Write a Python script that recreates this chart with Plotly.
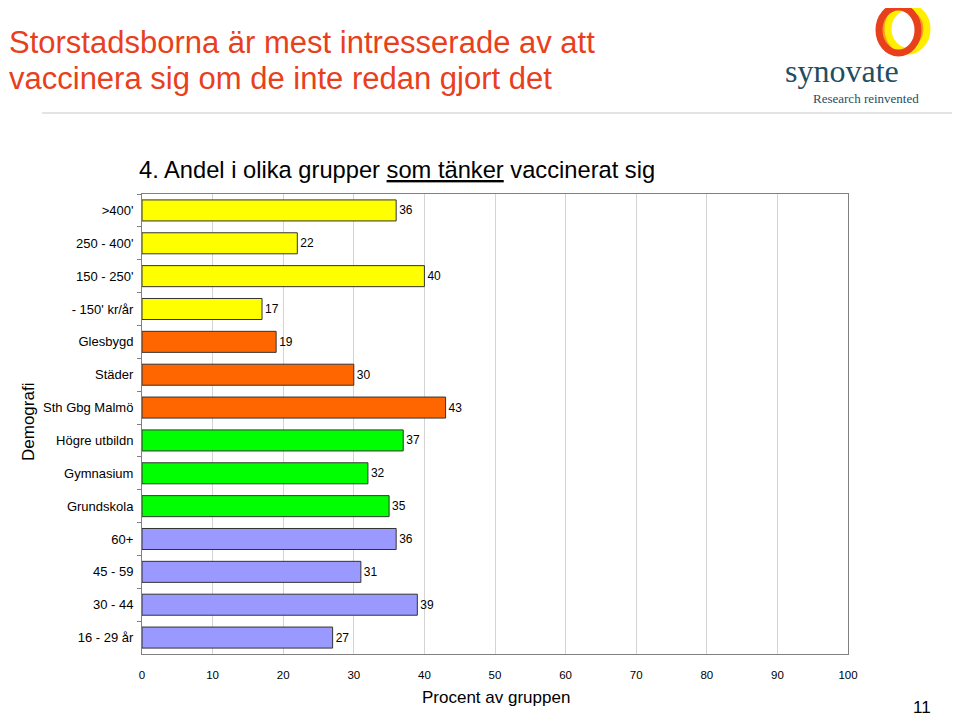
import plotly.graph_objects as go

categories = [">400'", "250 - 400'", "150 - 250'", "- 150' kr/år", "Glesbygd", "Städer",
              "Sth Gbg Malmö", "Högre utbildn", "Gymnasium", "Grundskola", "60+",
              "45 - 59", "30 - 44", "16 - 29 år"]
values = [36, 22, 40, 17, 19, 30, 43, 37, 32, 35, 36, 31, 39, 27]
group_colors = ["#FFFF00"] * 4 + ["#FF6600"] * 3 + ["#00FF00"] * 3 + ["#9999FF"] * 4
x_ticks = [0, 10, 20, 30, 40, 50, 60, 70, 80, 90, 100]

FONT = "Liberation Sans, Arial, sans-serif"
SERIF = "Liberation Serif, Times New Roman, serif"

# page offset of the default body margin
OFF = 8
# plot area in page pixels
L, R, T, B = 142, 848, 194, 654
W, H = 960 - OFF, 716 - OFF


def px(xp):
    return (xp - L) / (R - L)


def py(yp):
    return 1 - (yp - T) / (B - T)


fig = go.Figure()
fig.add_trace(go.Bar(
    y=categories, x=values, orientation="h",
    marker=dict(color=group_colors, line=dict(color="#333333", width=1)),
    width=0.64,
    text=[str(v) for v in values], textposition="outside",
    textfont=dict(family=FONT, size=12, color="#000000"),
    cliponaxis=False, showlegend=False,
))

fig.update_layout(
    width=W, height=H,
    paper_bgcolor="white", plot_bgcolor="white",
    margin=dict(l=L - OFF, r=W - (R - OFF), t=T - OFF, b=H - (B - OFF), pad=0),
    font=dict(family=FONT, color="#000000"),
    xaxis=dict(range=[0, 100], tickvals=x_ticks, ticktext=[str(t) for t in x_ticks],
               showgrid=True, gridcolor="#D4D4D4", gridwidth=1,
               showline=True, linecolor="#808080", linewidth=1, mirror=True,
               ticks="", tickfont=dict(size=11.5), zeroline=False,
               ticklabelstandoff=10),
    yaxis=dict(categoryorder="array", categoryarray=categories, autorange="reversed",
               showline=True, linecolor="#808080", linewidth=1, mirror=True,
               ticks="outside", ticklen=4, tickcolor="#808080", tickson="boundaries",
               tickfont=dict(size=13), showgrid=False, ticklabelstandoff=5),
    bargap=0.36,
)

# Main title (two lines)
fig.add_annotation(text="Storstadsborna är mest intresserade av att",
                   xref="paper", yref="paper", x=px(7), y=py(42),
                   xanchor="left", yanchor="middle", showarrow=False,
                   font=dict(family=FONT, size=31, color="#E8401C"))
fig.add_annotation(text="vaccinera sig om de inte redan gjort det",
                   xref="paper", yref="paper", x=px(7), y=py(78),
                   xanchor="left", yanchor="middle", showarrow=False,
                   font=dict(family=FONT, size=31, color="#E8401C"))
# Subtitle
fig.add_annotation(text="4. Andel i olika grupper <u>som tänker</u> vaccinerat sig",
                   xref="paper", yref="paper", x=px(137), y=py(170),
                   xanchor="left", yanchor="middle", showarrow=False,
                   font=dict(family=FONT, size=23.7, color="#000000"))
# Axis titles
fig.add_annotation(text="Procent av gruppen", xref="paper", yref="paper",
                   x=px(496), y=py(697), xanchor="center", yanchor="middle",
                   showarrow=False, font=dict(family=FONT, size=17, color="#000000"))
fig.add_annotation(text="Demografi", xref="paper", yref="paper",
                   x=px(28), y=py(422), xanchor="center", yanchor="middle",
                   textangle=-90, showarrow=False,
                   font=dict(family=FONT, size=17, color="#000000"))
# Page number
fig.add_annotation(text="11", xref="paper", yref="paper",
                   x=px(922), y=py(707), xanchor="center", yanchor="middle",
                   showarrow=False, font=dict(family=FONT, size=17, color="#000000"))

# Separator line
fig.add_shape(type="line", xref="paper", yref="paper",
              x0=px(42), x1=px(960), y0=py(113), y1=py(113),
              line=dict(color="#C8C8C8", width=1))

# Logo rings
fig.add_shape(type="circle", xref="paper", yref="paper",
              x0=px(883), x1=px(922), y0=py(52), y1=py(6),
              line=dict(color="#FF9A1A", width=4))
fig.add_shape(type="circle", xref="paper", yref="paper",
              x0=px(888), x1=px(927), y0=py(51), y1=py(7),
              line=dict(color="#FFEE00", width=7))
fig.add_shape(type="circle", xref="paper", yref="paper",
              x0=px(879), x1=px(918), y0=py(53), y1=py(7),
              line=dict(color="#E8401C", width=7))

fig.add_annotation(text="synovate", xref="paper", yref="paper",
                   x=px(842), y=py(71), xanchor="center", yanchor="middle", showarrow=False,
                   font=dict(family=SERIF, size=32, color="#1F4E63"))
fig.add_annotation(text="Research reinvented", xref="paper", yref="paper",
                   x=px(866), y=py(99), xanchor="center", yanchor="middle", showarrow=False,
                   font=dict(family=SERIF, size=13, color="#1F4E63"))

fig.write_html("out.html")
